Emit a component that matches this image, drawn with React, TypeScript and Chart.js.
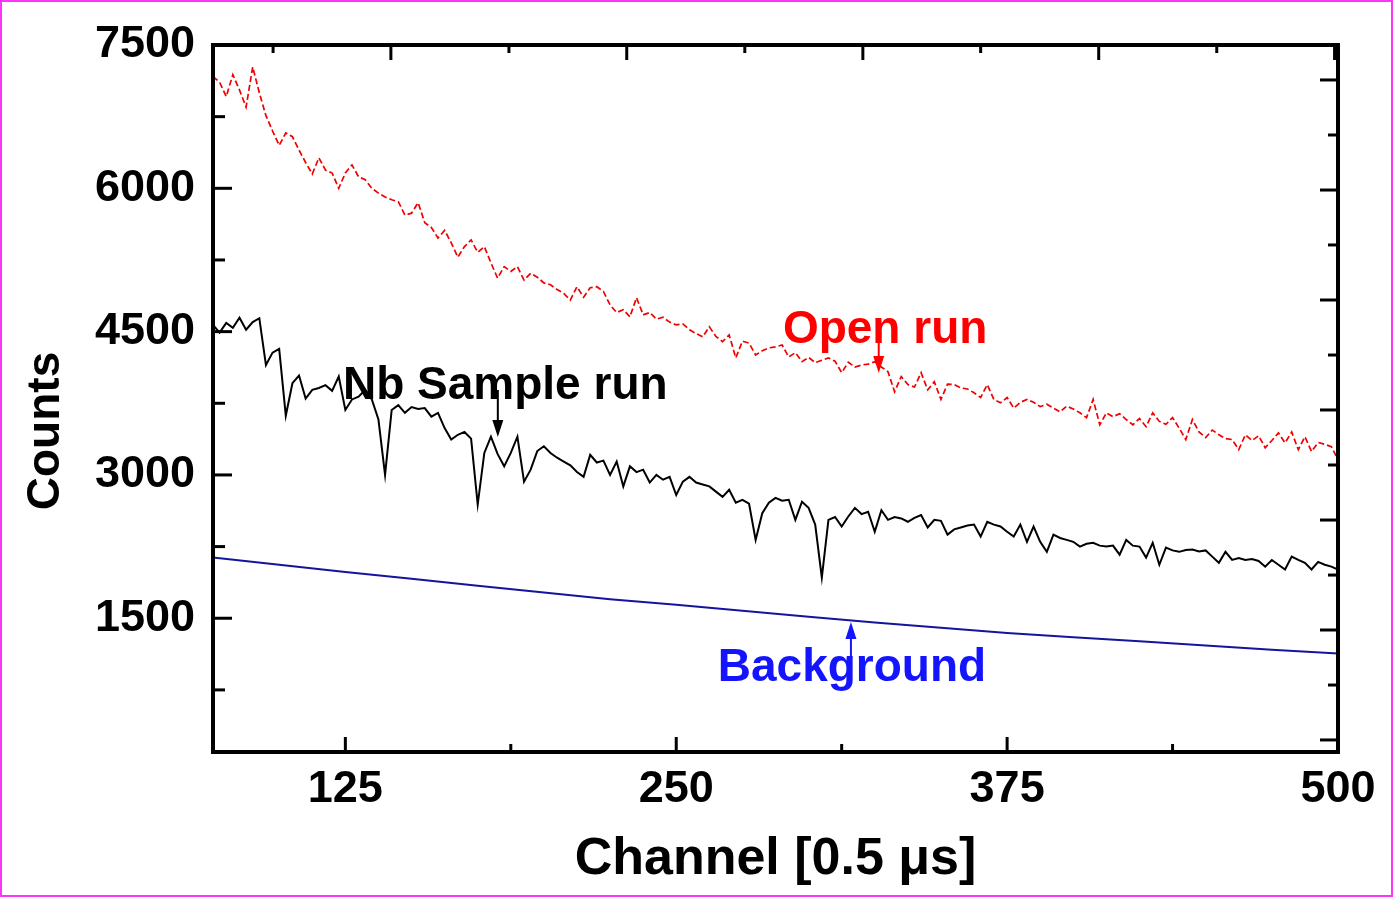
import React, { useEffect, useRef } from 'react';
import { Chart, registerables } from 'chart.js';

Chart.register(...registerables);

const FONT = '"Liberation Sans", Arial, Helvetica, sans-serif';

// Channel numbers shared by the open run and the Nb sample run
const channels = [
  75, 77.5, 80, 82.5, 85, 87.5, 90, 92.5, 95, 97.5,
  100, 102.5, 105, 107.5, 110, 112.5, 115, 117.5, 120, 122.5,
  125, 127.5, 130, 132.5, 135, 137.5, 140, 142.5, 145, 147.5,
  150, 152.5, 155, 157.5, 160, 162.5, 165, 167.5, 170, 172.5,
  175, 177.5, 180, 182.5, 185, 187.5, 190, 192.5, 195, 197.5,
  200, 202.5, 205, 207.5, 210, 212.5, 215, 217.5, 220, 222.5,
  225, 227.5, 230, 232.5, 235, 237.5, 240, 242.5, 245, 247.5,
  250, 252.5, 255, 257.5, 260, 262.5, 265, 267.5, 270, 272.5,
  275, 277.5, 280, 282.5, 285, 287.5, 290, 292.5, 295, 297.5,
  300, 302.5, 305, 307.5, 310, 312.5, 315, 317.5, 320, 322.5,
  325, 327.5, 330, 332.5, 335, 337.5, 340, 342.5, 345, 347.5,
  350, 352.5, 355, 357.5, 360, 362.5, 365, 367.5, 370, 372.5,
  375, 377.5, 380, 382.5, 385, 387.5, 390, 392.5, 395, 397.5,
  400, 402.5, 405, 407.5, 410, 412.5, 415, 417.5, 420, 422.5,
  425, 427.5, 430, 432.5, 435, 437.5, 440, 442.5, 445, 447.5,
  450, 452.5, 455, 457.5, 460, 462.5, 465, 467.5, 470, 472.5,
  475, 477.5, 480, 482.5, 485, 487.5, 490, 492.5, 495, 497.5,
  500,
];

const openRun = [
  7170, 7110, 6960, 7190, 7030, 6850, 7270, 7000, 6760, 6600,
  6450, 6580, 6540, 6400, 6270, 6150, 6320, 6190, 6160, 6000,
  6160, 6245, 6120, 6090, 6000, 5950, 5910, 5880, 5860, 5720,
  5740, 5850, 5640, 5590, 5480, 5560, 5430, 5280, 5390, 5460,
  5330, 5390, 5220, 5060, 5180, 5130, 5180, 5040, 5110, 5070,
  5010, 4990, 4940, 4900, 4830, 4970, 4860, 4960, 4970, 4920,
  4780, 4700, 4730, 4655, 4855, 4675, 4700, 4630, 4650, 4600,
  4570, 4580, 4520, 4480, 4445, 4550, 4450, 4395, 4465, 4225,
  4400, 4380, 4255, 4300, 4330, 4340, 4360, 4235, 4280, 4185,
  4230, 4175, 4200, 4225, 4190, 4070, 4180, 4130, 4150, 4160,
  4185, 4130, 4080, 3870, 4030, 3945, 3920, 4070, 3890, 3975,
  3790, 3950, 3945, 3910, 3900, 3860, 3810, 3945, 3790, 3755,
  3810, 3700, 3760, 3790, 3760, 3715, 3740, 3700, 3660, 3720,
  3690, 3650, 3600, 3790, 3525, 3650, 3610, 3640, 3580, 3525,
  3590, 3505, 3650, 3560, 3530, 3600, 3490, 3370, 3580, 3450,
  3390, 3470, 3420, 3380, 3370, 3265, 3420, 3360, 3410, 3285,
  3360, 3440, 3335, 3450, 3265, 3400, 3245, 3340, 3320, 3295,
  3160,
];

const nbSampleRun = [
  4570, 4490, 4590, 4540, 4645, 4520, 4600, 4640, 4150, 4280,
  4320, 3620, 3960, 4040, 3800, 3890, 3910, 3940, 3880, 4030,
  3680, 3790, 3820, 3890, 3790, 3580, 3000, 3680, 3730, 3650,
  3710, 3690, 3700, 3610, 3650, 3490, 3370, 3420, 3450, 3380,
  2690, 3230, 3400, 3220, 3090, 3230, 3400, 2930, 3055, 3250,
  3300, 3230, 3180, 3140, 3100, 3030, 2980, 3210, 3130, 3150,
  3000, 3140, 2880, 3090, 3030, 3055, 2920, 3000, 2950, 2980,
  2790, 2930, 2980, 2920, 2900, 2880, 2825, 2770, 2845, 2710,
  2740, 2700, 2320, 2600, 2710, 2760, 2730, 2740, 2530, 2720,
  2655, 2480, 1925, 2530, 2560, 2460, 2565, 2655, 2590, 2615,
  2405, 2630, 2530, 2560, 2545, 2510, 2550, 2580, 2450, 2530,
  2520, 2375, 2430, 2450, 2470, 2480, 2355, 2510, 2480, 2460,
  2405, 2355, 2480, 2300, 2460, 2300, 2195, 2375, 2340, 2320,
  2300, 2250, 2280, 2290, 2260, 2250, 2260, 2165, 2320, 2260,
  2250, 2135, 2290, 2060, 2240, 2210, 2195, 2215, 2220, 2200,
  2210, 2145, 2080, 2195, 2110, 2130, 2110, 2120, 2100, 2040,
  2110, 2060, 2010, 2145, 2110, 2080, 2010, 2090, 2060, 2040,
  2010,
];

const bgChannels = [75, 100, 125, 150, 175, 200, 225, 250, 275, 300, 325, 350, 375, 400, 425, 450, 475, 500];
const background = [2137, 2060, 1985, 1913, 1840, 1770, 1700, 1640, 1578, 1515, 1455, 1400, 1345, 1300, 1258, 1215, 1170, 1130];

// Axis ticks
const xTickLabels = [125, 250, 375, 500];
const xMinorTicks = [187.5, 312.5, 437.5];
const yTickLabels = [1500, 3000, 4500, 6000, 7500];
const yMinorTicks = [750, 2250, 3750, 5250, 6750];
const topMajorTicks = [142.2, 231.3, 320.5, 409.6, 498.7];
const topMinorTicks = [97.7, 186.8, 275.9, 365.0, 454.2];
const rightMajorTicks = [7134, 5982, 4831, 3680, 2528, 1377, 226];
const rightMinorTicks = [6558, 5407, 4255, 3104, 1952, 801];

const annotations = [
  { text: 'Open run', color: '#ff0000', x: 290.3, y: 4381, arrowX: 326.5, arrowFrom: 4538, arrowTo: 4067 },
  { text: 'Nb Sample run', color: '#000000', x: 124.1, y: 3795, arrowX: 182.6, arrowFrom: 3889, arrowTo: 3397 },
  { text: 'Background', color: '#1414ff', x: 265.7, y: 843, arrowX: 316, arrowFrom: 853, arrowTo: 1461 },
];

const decorPlugin = {
  id: 'decor',
  afterDraw(chart: any) {
    const { ctx, chartArea: a, scales } = chart;
    const xs = scales.x;
    const ys = scales.y;
    ctx.save();
    ctx.strokeStyle = '#000';
    ctx.lineCap = 'butt';
    ctx.lineWidth = 3;
    const seg = (x1: number, y1: number, x2: number, y2: number) => {
      ctx.beginPath();
      ctx.moveTo(x1, y1);
      ctx.lineTo(x2, y2);
      ctx.stroke();
    };
    xTickLabels.forEach((v) => { const p = xs.getPixelForValue(v); seg(p, a.bottom, p, a.bottom - 15); });
    xMinorTicks.forEach((v) => { const p = xs.getPixelForValue(v); seg(p, a.bottom, p, a.bottom - 8); });
    topMajorTicks.forEach((v) => { const p = xs.getPixelForValue(v); seg(p, a.top, p, a.top + 15); });
    topMinorTicks.forEach((v) => { const p = xs.getPixelForValue(v); seg(p, a.top, p, a.top + 8); });
    yTickLabels.forEach((v) => { const p = ys.getPixelForValue(v); seg(a.left, p, a.left + 19, p); });
    yMinorTicks.forEach((v) => { const p = ys.getPixelForValue(v); seg(a.left, p, a.left + 12, p); });
    rightMajorTicks.forEach((v) => { const p = ys.getPixelForValue(v); seg(a.right, p, a.right - 18, p); });
    rightMinorTicks.forEach((v) => { const p = ys.getPixelForValue(v); seg(a.right, p, a.right - 10, p); });

    ctx.lineWidth = 4;
    ctx.strokeRect(a.left, a.top, a.right - a.left, a.bottom - a.top);

    // annotations
    annotations.forEach((an) => {
      ctx.fillStyle = an.color;
      ctx.strokeStyle = an.color;
      ctx.font = `bold 46px ${FONT}`;
      ctx.textAlign = 'left';
      ctx.textBaseline = 'alphabetic';
      ctx.fillText(an.text, xs.getPixelForValue(an.x), ys.getPixelForValue(an.y));
      const ax = xs.getPixelForValue(an.arrowX);
      const y1 = ys.getPixelForValue(an.arrowFrom);
      const y2 = ys.getPixelForValue(an.arrowTo);
      const dir = Math.sign(y2 - y1);
      ctx.lineWidth = 2;
      seg(ax, y1, ax, y2 - dir * 14);
      ctx.beginPath();
      ctx.moveTo(ax, y2);
      ctx.lineTo(ax - 5.5, y2 - dir * 17);
      ctx.lineTo(ax + 5.5, y2 - dir * 17);
      ctx.closePath();
      ctx.fill();
    });

    // y axis title
    ctx.fillStyle = '#000';
    ctx.font = `bold 46px ${FONT}`;
    ctx.textAlign = 'center';
    ctx.textBaseline = 'middle';
    ctx.translate(46, 431);
    ctx.rotate(-Math.PI / 2);
    ctx.fillText('Counts', 0, 0);
    ctx.restore();
  },
};

export default function App() {
  const ref = useRef<HTMLCanvasElement | null>(null);

  useEffect(() => {
    if (!ref.current) return;
    const toPts = (xsArr: number[], ysArr: number[]) => xsArr.map((x, i) => ({ x, y: ysArr[i] }));
    const chart = new Chart(ref.current, {
      type: 'line',
      data: {
        datasets: [
          {
            label: 'Background',
            data: toPts(bgChannels, background),
            borderColor: '#14149c',
            borderWidth: 2,
            pointRadius: 0,
            tension: 0,
          },
          {
            label: 'Nb Sample run',
            data: toPts(channels, nbSampleRun),
            borderColor: '#000000',
            borderWidth: 2,
            pointRadius: 0,
            tension: 0,
          },
          {
            label: 'Open run',
            data: toPts(channels, openRun),
            borderColor: '#f00000',
            borderWidth: 1.7,
            borderDash: [6, 3],
            pointRadius: 0,
            tension: 0,
          },
        ],
      },
      options: {
        animation: false,
        responsive: false,
        devicePixelRatio: 1,
        layout: { padding: { top: 45, right: 55, left: 0, bottom: 0 } },
        plugins: { legend: { display: false }, tooltip: { enabled: false } },
        scales: {
          x: {
            type: 'linear',
            min: 75,
            max: 500,
            grid: { display: false },
            border: { display: false },
            afterBuildTicks: (s: any) => { s.ticks = xTickLabels.map((v) => ({ value: v })); },
            afterFit: (s: any) => { s.height = 145; },
            ticks: {
              color: '#000',
              font: { family: FONT, size: 45, weight: 'bold' },
              padding: 3,
              maxRotation: 0,
              autoSkip: false,
              callback: (v: any) => String(v),
            },
            title: {
              display: true,
              text: 'Channel [0.5 μs]',
              color: '#000',
              font: { family: FONT, size: 52, weight: 'bold' },
              padding: { top: 0, bottom: 6 },
            },
          },
          y: {
            type: 'linear',
            min: 100,
            max: 7500,
            grid: { display: false },
            border: { display: false },
            afterBuildTicks: (s: any) => { s.ticks = yTickLabels.map((v) => ({ value: v })); },
            afterFit: (s: any) => { s.width = 213; },
            ticks: {
              color: '#000',
              font: { family: FONT, size: 45, weight: 'bold' },
              padding: 10,
              autoSkip: false,
              callback: (v: any) => String(v),
            },
          },
        },
      },
      plugins: [decorPlugin],
    });
    return () => chart.destroy();
  }, []);

  return (
    <div style={{ position: 'absolute', left: 0, top: 0, width: 1393, height: 897, background: '#fff' }}>
      <canvas ref={ref} width={1393} height={897} style={{ position: 'absolute', left: 0, top: 0, width: 1393, height: 897 }} />
      <div
        style={{
          position: 'absolute',
          left: 0,
          top: 0,
          width: 1393,
          height: 897,
          boxSizing: 'border-box',
          border: '2px solid #ff33ff',
          pointerEvents: 'none',
        }}
      />
    </div>
  );
}
